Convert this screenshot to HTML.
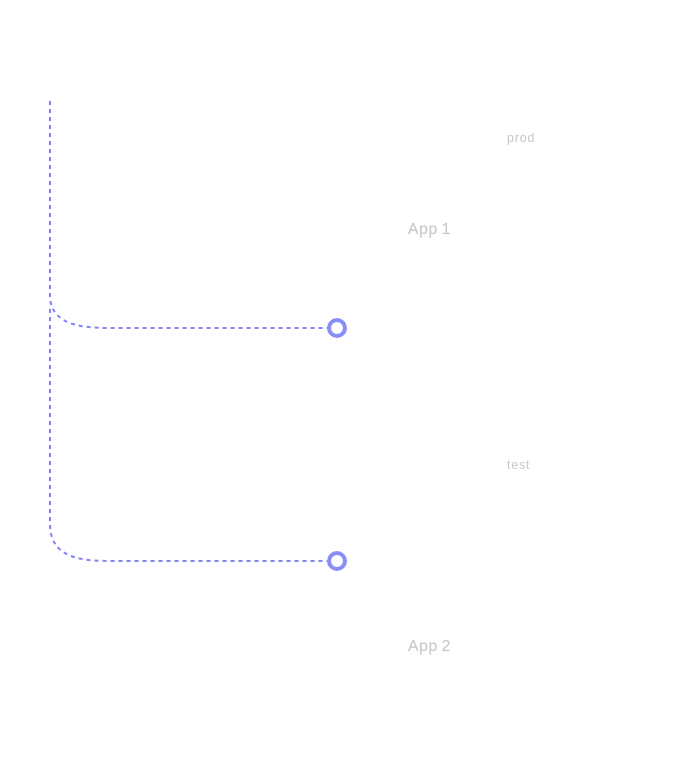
<!DOCTYPE html>
<html>
<head>
<meta charset="utf-8">
<style>
html,body{margin:0;padding:0;background:#fff;}
body{width:695px;height:781px;position:relative;overflow:hidden;font-family:"Liberation Sans",sans-serif;}
svg{position:absolute;left:0;top:0;}
.t{position:absolute;white-space:nowrap;line-height:1;color:#c6c6c6;will-change:transform;}
.s{font-size:12.5px;letter-spacing:0.8px;color:#c7c7c7;}
.b{font-size:31.4px;letter-spacing:1.3px;word-spacing:-2.6px;-webkit-text-stroke:0.4px #c9c9c9;color:#c9c9c9;transform:scale(0.5);transform-origin:0 0;}
</style>
</head>
<body>
<svg width="695" height="781" viewBox="0 0 695 781">
  <g fill="none" stroke="#8482f9" stroke-width="2" stroke-dasharray="4 4">
    <path d="M50,101 L50,523.6 C50,561 85.7,561 117.6,561 L337,561"/>
    <rect x="47" y="300" width="6" height="6" fill="#fff" stroke="none"/>
    <path d="M50,101 L50,295.4 C50,328 89.5,328 112.5,328 L337,328"/>
  </g>
  <g fill="#fff" stroke="#898df7" stroke-width="4">
    <circle cx="337" cy="328" r="8"/>
    <circle cx="337" cy="561" r="8"/>
  </g>
</svg>
<div class="t s" style="left:507.3px;top:132px;">prod</div>
<div class="t s" style="left:507px;top:459px;">test</div>
<div class="t b" style="left:407.5px;top:221px;">App 1</div>
<div class="t b" style="left:407.5px;top:638px;">App 2</div>
</body>
</html>
